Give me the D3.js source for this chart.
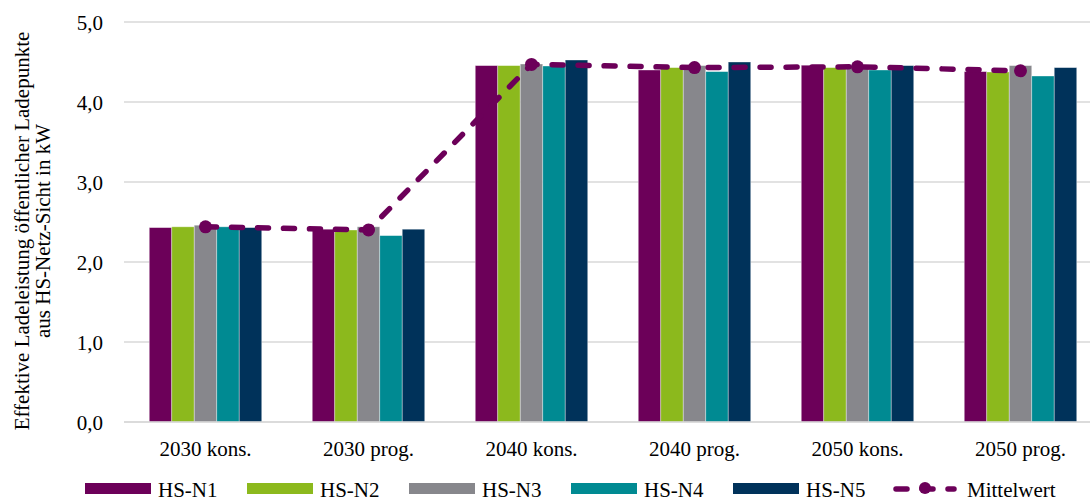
<!DOCTYPE html>
<html><head><meta charset="utf-8">
<script src="https://cdn.jsdelivr.net/npm/d3@7"></script>
<style>body{margin:0;background:#fff}svg{display:block}</style>
</head><body><svg id="c" width="1090" height="502" font-family="'Liberation Serif', 'DejaVu Serif', serif"></svg>
<script>
const categories = ["2030 kons.","2030 prog.","2040 kons.","2040 prog.","2050 kons.","2050 prog."];
const seriesNames = ["HS-N1","HS-N2","HS-N3","HS-N4","HS-N5"];
const hsN1 = [2.43,2.41,4.455,4.40,4.46,4.38];
const hsN2 = [2.44,2.40,4.455,4.43,4.43,4.375];
const hsN3 = [2.46,2.44,4.475,4.455,4.455,4.455];
const hsN4 = [2.44,2.33,4.45,4.38,4.40,4.325];
const hsN5 = [2.43,2.41,4.525,4.50,4.455,4.43];
const mittelwert = [2.44,2.40,4.47,4.43,4.44,4.39];
const yTicks = [0,1,2,3,4,5];
const meanName = "Mittelwert";
const colors = ["#6C0059","#8CB91D","#87878C","#008A92","#00325A"];

const svg = d3.select("#c");
const FS = 21;
const series = [hsN1,hsN2,hsN3,hsN4,hsN5];
const pL = 124, pR = 1102, pT = 22, pB = 422;
const y = d3.scaleLinear().domain([0,5]).range([pB, pT]);
const x0 = d3.scaleBand().domain(categories).range([pL,pR]).paddingInner(0.31).paddingOuter(0.155);
const x1 = d3.scaleBand().domain(seriesNames).range([0,x0.bandwidth()]);

// grid
svg.append("g").selectAll("line").data(yTicks).join("line")
  .attr("x1",pL).attr("x2",1090).attr("y1",d=>y(d)).attr("y2",d=>y(d))
  .attr("stroke","#d9d9d9").attr("stroke-width",1.3);
// y labels
svg.append("g").selectAll("text").data(yTicks).join("text")
  .attr("x",103).attr("y",d=>y(d)+7.5).attr("text-anchor","end")
  .attr("font-size",FS).text(d=>d.toFixed(1).replace(".",","));
// bars
const g = svg.append("g");
categories.forEach((c,ci)=>{
  g.append("g").attr("transform",`translate(${x0(c)},0)`).selectAll("rect")
   .data(series.map((s,si)=>({n:seriesNames[si],v:s[ci],col:colors[si]}))).join("rect")
   .attr("x",d=>x1(d.n)).attr("width",x1.bandwidth())
   .attr("y",d=>y(d.v)).attr("height",d=>y(0)-y(d.v))
   .attr("fill",d=>d.col).attr("stroke","#ffffff").attr("stroke-opacity",0.45).attr("stroke-width",0.8);
});
// baseline
svg.append("line").attr("x1",pL).attr("x2",1090).attr("y1",y(0)).attr("y2",y(0)).attr("stroke","#d9d9d9").attr("stroke-width",1.3);
// category labels
svg.append("g").selectAll("text").data(categories).join("text")
  .attr("x",d=>x0(d)+x0.bandwidth()/2).attr("y",456).attr("text-anchor","middle")
  .attr("font-size",FS).text(d=>d);
// mean line
const cx = i => x0(categories[i]) + x0.bandwidth()/2;
const line = d3.line().x((d,i)=>cx(i)).y(d=>y(d));
svg.append("path").attr("d",line(mittelwert)).attr("fill","none").attr("stroke","#6C0059")
  .attr("stroke-width",5.5).attr("stroke-dasharray","11 15").attr("stroke-linecap","round");
svg.append("g").selectAll("circle").data(mittelwert).join("circle")
  .attr("cx",(d,i)=>cx(i)).attr("cy",d=>y(d)).attr("r",6.5).attr("fill","#6C0059");
// y title
const yt = svg.append("text").attr("transform","translate(29,231) rotate(-90)").attr("text-anchor","middle").attr("font-size",21);
yt.append("tspan").attr("x",0).attr("y",0).text("Effektive Ladeleistung öffentlicher Ladepunkte");
yt.append("tspan").attr("x",0).attr("y",21).text("aus HS-Netz-Sicht in kW");
// legend
const lg = svg.append("g");
seriesNames.forEach((n,i)=>{
  const lx = 85 + i*162;
  lg.append("rect").attr("x",lx).attr("y",483).attr("width",66).attr("height",11).attr("fill",colors[i]);
  lg.append("text").attr("x",lx+73).attr("y",497).attr("font-size",FS).text(n);
});
const mx = 85 + 5*162 - 2;
lg.append("line").attr("x1",mx+3).attr("x2",mx+61).attr("y1",489).attr("y2",489)
  .attr("stroke","#6C0059").attr("stroke-width",5.5).attr("stroke-dasharray","11 15").attr("stroke-linecap","round");
lg.append("circle").attr("cx",mx+32).attr("cy",488).attr("r",6).attr("fill","#6C0059");
lg.append("text").attr("x",mx+74).attr("y",497).attr("font-size",FS).text(meanName);
</script></body></html>
